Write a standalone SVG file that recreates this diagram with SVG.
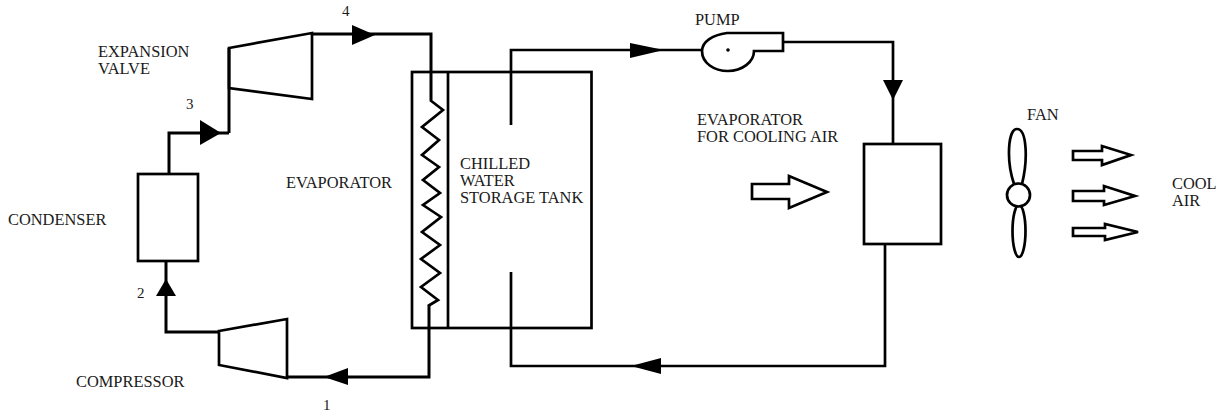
<svg xmlns="http://www.w3.org/2000/svg" width="1220" height="416" viewBox="0 0 1220 416">
<style>
.l{fill:none;stroke:#000;stroke-width:2.7;stroke-linejoin:miter}
.h{fill:none;stroke:#000;stroke-width:3}
.a{fill:#000;stroke:none}
.o{fill:#fff;stroke:#000;stroke-width:2.7}
text{font-family:"Liberation Serif","Times New Roman",serif;font-size:16.400px;fill:#1a1a1a}
.n{font-size:15px}
</style>
<rect width="1220" height="416" fill="#fff"/>
<g id="connectors">
<path class="h" d="M169 174V133H229"/>
<path class="h" d="M229 133V48"/>
<path class="h" d="M312 34H431V100"/>
<path class="h" d="M429 305V377H287"/>
<path class="h" d="M219 332H166V262"/>
<path class="l" d="M511 125V50H702"/>
<path class="l" d="M783 42H893V144"/>
<path class="l" d="M885 245V366H511V272"/>
<path class="a" d="M352 25L375 35L352 45Z"/>
<path class="a" d="M200 120L221 133L200 145Z"/>
<path class="a" d="M348 368V385L324 377Z"/>
<path class="a" d="M156 296H176L166 279Z"/>
<path class="a" d="M630 43L664 50L630 58Z"/>
<path class="a" d="M883 80H903L893 100Z"/>
<path class="a" d="M661 358V374L631 366Z"/>
</g>
<g id="expansion-valve"><path class="l" d="M229 48L312 33V99L229 88Z"/></g>
<g id="condenser"><rect class="l" x="138" y="174" width="60" height="87"/><text x="8" y="225">CONDENSER</text></g>
<g id="compressor"><path class="l" d="M219 331L287 319V378L219 365Z"/><text x="76" y="387">COMPRESSOR</text></g>
<g id="tank"><rect class="l" x="412" y="72" width="179.500" height="256"/><path class="l" d="M448 72V328"/>
<text x="460" y="169">CHILLED<tspan x="460" y="186">WATER</tspan><tspan x="460" y="203">STORAGE TANK</tspan></text></g>
<g id="coil"><path class="l" d="M430 100L443 110L422 127L439 140L422 155L439 167L423 180L440 193L423 205L441 217L422 232L440 245L421 259L440 273L421 287L438 300L428 306"/></g>
<g id="pump"><path class="l" d="M727 33C712 35 702 42 702 51C702 63 714 71 728 71C742 71 754 62 754 51H783V33Z"/><circle cx="728" cy="50" r="1.800" fill="#000"/><text x="695" y="25">PUMP</text></g>
<g id="air-evaporator"><rect class="l" x="864" y="144" width="77" height="100"/><text x="697" y="124.500">EVAPORATOR<tspan x="697" y="141.500">FOR COOLING AIR</tspan></text></g>
<g id="inlet-arrow"><path class="o" d="M752 184H789V176L827 192L789 208V199H752Z"/></g>
<g id="fan"><path class="l" d="M1014 184C1006 160 1008 129 1017 129C1027 129 1028 160 1022 184"/><ellipse class="l" cx="1019" cy="231" rx="6.500" ry="26"/><circle class="o" cx="1018.500" cy="195" r="11.500"/><text x="1027" y="120">FAN</text></g>
<g id="cool-air"><path class="o" d="M1073 151H1102V146L1131 155L1102 165V160H1073Z"/><path class="o" d="M1073 191H1104V186L1135 196L1104 205V201H1073Z"/><path class="o" d="M1073 228H1105V224L1138 232L1105 240V236H1073Z"/><text x="1172" y="189">COOL<tspan x="1172" y="206">AIR</tspan></text></g>
<g id="labels"><text x="98" y="56.500">EXPANSION<tspan x="98" y="73.500">VALVE</tspan></text><text x="286" y="188">EVAPORATOR</text><text class="n" x="186" y="109">3</text><text class="n" x="342" y="16">4</text><text class="n" x="137" y="298">2</text><text class="n" x="323" y="410">1</text></g>
</svg>
